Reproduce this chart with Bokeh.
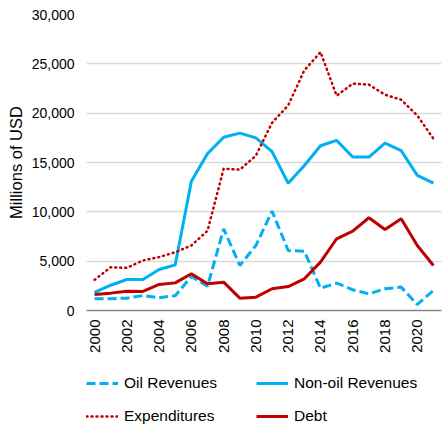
import math
from bokeh.plotting import figure
from bokeh.layouts import column
from bokeh.models import (ColumnDataSource, Legend, LegendItem, FixedTicker,
                          NumeralTickFormatter, Range1d)
from bokeh.embed import file_html
from bokeh.resources import INLINE

years = list(range(2000, 2022))
oil_revenues = [1180, 1200, 1250, 1520, 1300, 1500, 3450, 2450, 8280, 4560, 6590,
                10070, 6080, 6010, 2260, 2770, 2100, 1690, 2200, 2370, 610, 2030]
non_oil_revenues = [1830, 2560, 3140, 3150, 4150, 4630, 13100, 15900, 17560, 17980,
                    17500, 16100, 12900, 14700, 16700, 17240, 15550, 15550, 16970,
                    16200, 13700, 12900]
expenditures = [3110, 4390, 4320, 5070, 5410, 5910, 6590, 8080, 14370, 14270, 15700,
                19030, 20790, 24340, 26200, 21770, 22990, 22890, 21870, 21360,
                19770, 17410]
debt = [1620, 1760, 1960, 1930, 2640, 2800, 3720, 2700, 2870, 1250, 1350, 2200,
        2430, 3210, 4900, 7270, 8040, 9400, 8210, 9300, 6590, 4560]
series_names = ["Oil Revenues", "Non-oil Revenues", "Expenditures", "Debt"]
x_ticks = list(range(2000, 2021, 2))
y_ticks = [0, 5000, 10000, 15000, 20000, 25000, 30000]

src = ColumnDataSource(dict(year=years, oil=oil_revenues, nonoil=non_oil_revenues,
                            exp=expenditures, debt=debt))

FONT = "Liberation Sans"
BLUE = "#00B0F0"
RED = "#C00000"
styles = [
    dict(line_color=BLUE, line_width=3, line_dash="9 4"),
    dict(line_color=BLUE, line_width=3),
    dict(line_color=RED, line_width=2.5, line_dash="1 4", line_cap="round"),
    dict(line_color=RED, line_width=3),
]
cols = ["oil", "nonoil", "exp", "debt"]

p = figure(width=443, height=357, output_backend="svg", toolbar_location=None,
           x_range=Range1d(1999.5, 2021.5), y_range=Range1d(0, 30000),
           min_border_left=86, min_border_right=2, min_border_top=14,
           min_border_bottom=47)
p.outline_line_color = None

for c, st in zip(cols, styles):
    p.line("year", c, source=src, **st)

p.xgrid.grid_line_color = None
p.ygrid.grid_line_color = "#D9D9D9"
p.ygrid.grid_line_width = 1.3

p.xaxis.ticker = FixedTicker(ticks=x_ticks)
p.xaxis.major_label_orientation = math.pi / 2
p.xaxis.axis_line_color = "#868686"
p.xaxis.axis_line_width = 1.5
p.xaxis.major_tick_line_color = None
p.xaxis.minor_tick_line_color = None
p.xaxis.major_tick_out = 0
p.xaxis.major_tick_in = 0
p.xaxis.minor_tick_out = 0
p.xaxis.major_label_text_font = FONT
p.xaxis.major_label_text_font_size = "15px"
p.xaxis.major_label_text_color = "#000000"
p.xaxis.major_label_standoff = 9

p.yaxis.ticker = FixedTicker(ticks=y_ticks)
p.yaxis.formatter = NumeralTickFormatter(format="0,0")
p.yaxis.axis_line_color = None
p.yaxis.major_tick_line_color = None
p.yaxis.minor_tick_line_color = None
p.yaxis.major_tick_out = 0
p.yaxis.major_tick_in = 0
p.yaxis.minor_tick_out = 0
p.yaxis.major_label_text_font = FONT
p.yaxis.major_label_text_font_size = "14px"
p.yaxis.major_label_text_color = "#000000"
p.yaxis.major_label_standoff = 12
p.yaxis.axis_label = "Millions of USD"
p.yaxis.axis_label_text_font = FONT
p.yaxis.axis_label_text_font_size = "16.5px"
p.yaxis.axis_label_text_font_style = "normal"
p.yaxis.axis_label_text_color = "#000000"
p.yaxis.axis_label_standoff = 4

# legend strip below the chart (its lines lie outside its visible range)
lg = figure(width=443, height=68, output_backend="svg", toolbar_location=None,
            x_range=Range1d(1999.5, 2021.5), y_range=Range1d(-2, -1),
            x_axis_location=None, y_axis_location=None,
            min_border_left=86, min_border_right=2, min_border_top=0,
            min_border_bottom=0)
lg.outline_line_color = None
lg.xgrid.grid_line_color = None
lg.ygrid.grid_line_color = None
items = []
for name, c, st in zip(series_names, cols, styles):
    r = lg.line("year", c, source=src, **st)
    items.append(LegendItem(label=name, renderers=[r]))

legend = Legend(items=items, location=(0, 0), ncols=2, orientation="horizontal")
legend.border_line_color = None
legend.background_fill_alpha = 0
legend.label_text_font = FONT
legend.label_text_font_size = "15.5px"
legend.label_text_color = "#000000"
legend.glyph_width = 32
legend.glyph_height = 18
legend.label_height = 18
legend.label_width = 117
legend.label_standoff = 6
legend.spacing = 15
legend.padding = 0
legend.margin = 0
lg.add_layout(legend, "center")

layout = column(p, lg, spacing=0)
open("out.html", "w").write(file_html(layout, INLINE))
